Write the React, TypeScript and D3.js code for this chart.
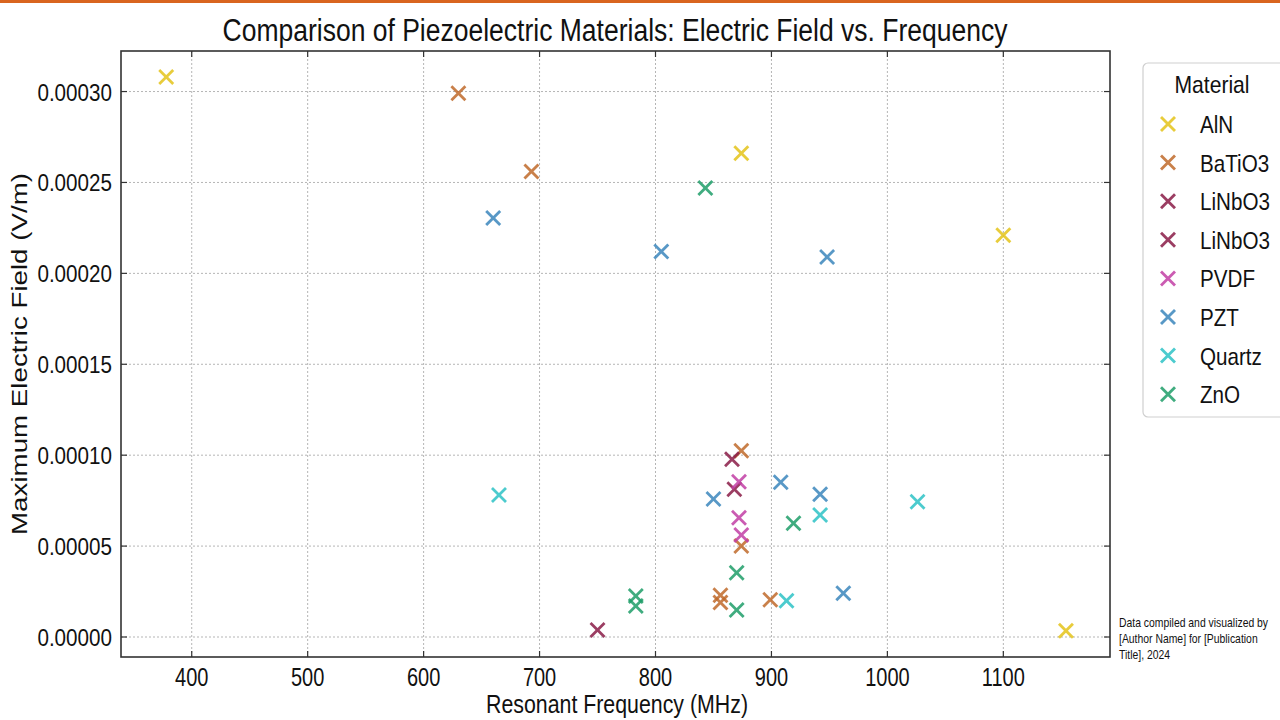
import React from "react";
import * as d3 from "d3";

const materials = ["AlN", "BaTiO3", "LiNbO3", "LiNbO3 ", "PVDF", "PZT", "Quartz", "ZnO"];
const legendLabels = ["AlN", "BaTiO3", "LiNbO3", "LiNbO3", "PVDF", "PZT", "Quartz", "ZnO"];
const colors = ["#e4c41a", "#c06a2b", "#8a1c47", "#8a1c47", "#c23fa5", "#3b87bd", "#2dc3c6", "#1f9e69"];

const alnFreq = [378, 874, 1100, 1154];
const alnField = [0.000308, 0.000266, 0.000221, 0.0000035];
const batioFreq = [630, 693, 874, 874, 856, 856, 899];
const batioField = [0.000299, 0.000256, 0.0001025, 0.00005, 0.000023, 0.000019, 0.0000205];
const linboAFreq = [866, 750];
const linboAField = [0.0000977, 0.0000039];
const linboBFreq = [868];
const linboBField = [0.0000812];
const pvdfFreq = [872, 872, 874];
const pvdfField = [0.0000854, 0.0000656, 0.0000561];
const pztFreq = [660, 805, 948, 850, 908, 942, 962];
const pztField = [0.0002305, 0.000212, 0.000209, 0.0000759, 0.0000851, 0.0000785, 0.000024];
const quartzFreq = [665, 942, 1026, 913];
const quartzField = [0.0000781, 0.0000671, 0.0000744, 0.00002];
const znoFreq = [843, 919, 870, 870, 783, 783];
const znoField = [0.000247, 0.0000625, 0.0000354, 0.0000149, 0.0000226, 0.0000171];

const xTicks = [400, 500, 600, 700, 800, 900, 1000, 1100];
const yTicks = [0, 0.00005, 0.0001, 0.00015, 0.0002, 0.00025, 0.0003];
const noteLines = ["Data compiled and visualized by", "[Author Name] for [Publication", "Title], 2024"];

const seriesFreq = [alnFreq, batioFreq, linboAFreq, linboBFreq, pvdfFreq, pztFreq, quartzFreq, znoFreq];
const seriesField = [alnField, batioField, linboAField, linboBField, pvdfField, pztField, quartzField, znoField];

const font = "'Liberation Sans', Arial, sans-serif";

function CText(props: { x: number; y: number; size: number; sx: number; anchor?: string; children: React.ReactNode }) {
  const { x, y, size, sx, anchor, children } = props;
  return (
    <text
      transform={`translate(${x},${y}) scale(${sx},1)`}
      textAnchor={anchor || "start"}
      fontFamily={font}
      fontSize={size}
      fill="#111"
    >
      {children}
    </text>
  );
}

export default function App() {
  const L = 121, R = 1110, T = 51, B = 657;
  const x = d3.scaleLinear().domain([339, 1192]).range([L, R]);
  const y = d3.scaleLinear().domain([-0.000011, 0.0003223]).range([B, T]);
  const m = 7;
  const cross = (cx: number, cy: number, c: string, key: string) => (
    <g key={key} stroke={c} strokeWidth={2.8} strokeLinecap="butt" opacity={0.85}>
      <line x1={cx - m} y1={cy - m} x2={cx + m} y2={cy + m} />
      <line x1={cx - m} y1={cy + m} x2={cx + m} y2={cy - m} />
    </g>
  );
  const legendTop = 124, legendStep = 38.6;
  return (
    <div style={{ position: "fixed", left: 0, top: 0 }}>
      <svg width={1280} height={720} style={{ display: "block", background: "#fff" }}>
        <rect x={0} y={0} width={1280} height={3} fill="#d9651f" />
        <text x={615} y={41} textAnchor="middle" fontFamily={font} fontSize={31} fill="#111"
          textLength={785} lengthAdjust="spacingAndGlyphs">
          Comparison of Piezoelectric Materials: Electric Field vs. Frequency
        </text>
        {xTicks.map((t) => (
          <line key={"gx" + t} x1={x(t)} x2={x(t)} y1={T} y2={B} stroke="#b5b5b5" strokeWidth={1} strokeDasharray="2,2" />
        ))}
        {yTicks.map((t) => (
          <line key={"gy" + t} x1={L} x2={R} y1={y(t)} y2={y(t)} stroke="#b5b5b5" strokeWidth={1} strokeDasharray="2,2" />
        ))}
        {xTicks.map((t) => (
          <g key={"tx" + t} stroke="#333" strokeWidth={1.2}>
            <line x1={x(t)} x2={x(t)} y1={B} y2={B - 6} />
            <line x1={x(t)} x2={x(t)} y1={T} y2={T + 6} />
          </g>
        ))}
        {yTicks.map((t) => (
          <g key={"ty" + t} stroke="#333" strokeWidth={1.2}>
            <line x1={L} x2={L + 6} y1={y(t)} y2={y(t)} />
            <line x1={R} x2={R - 6} y1={y(t)} y2={y(t)} />
          </g>
        ))}
        {seriesFreq.map((fs, si) =>
          fs.map((f, i) => cross(x(f), y(seriesField[si][i]), colors[si], `p${si}-${i}`))
        )}
        <rect x={L} y={T} width={R - L} height={B - T} fill="none" stroke="#333" strokeWidth={1.6} />
        {xTicks.map((t) => (
          <CText key={"lx" + t} x={x(t)} y={686} size={25} sx={0.8} anchor="middle">{String(t)}</CText>
        ))}
        {yTicks.map((t) => (
          <CText key={"ly" + t} x={112} y={y(t) + 9} size={24} sx={0.86} anchor="end">{t.toFixed(5)}</CText>
        ))}
        <text x={617} y={713} textAnchor="middle" fontFamily={font} fontSize={25} fill="#111"
          textLength={262} lengthAdjust="spacingAndGlyphs">
          Resonant Frequency (MHz)
        </text>
        <text transform={`translate(27,${(T + B) / 2}) rotate(-90)`} textAnchor="middle" fontFamily={font} fontSize={22} fill="#111"
          textLength={362} lengthAdjust="spacingAndGlyphs">
          Maximum Electric Field (V/m)
        </text>
        <rect x={1143} y={63} width={150} height={354} rx={5} fill="#fff" stroke="#cfcfcf" strokeWidth={1.2} />
        <CText x={1212} y={93} size={24} sx={0.88} anchor="middle">Material</CText>
        {legendLabels.map((lab, i) => (
          <g key={"lg" + i}>
            {cross(1168, legendTop + i * legendStep, colors[i], "lm" + i)}
            <CText x={1200} y={legendTop + i * legendStep + 9} size={24} sx={0.86}>{lab}</CText>
          </g>
        ))}
        {noteLines.map((s, i) => (
          <CText key={"an" + i} x={1119} y={627 + i * 16} size={13} sx={0.8}>{s}</CText>
        ))}
      </svg>
    </div>
  );
}
